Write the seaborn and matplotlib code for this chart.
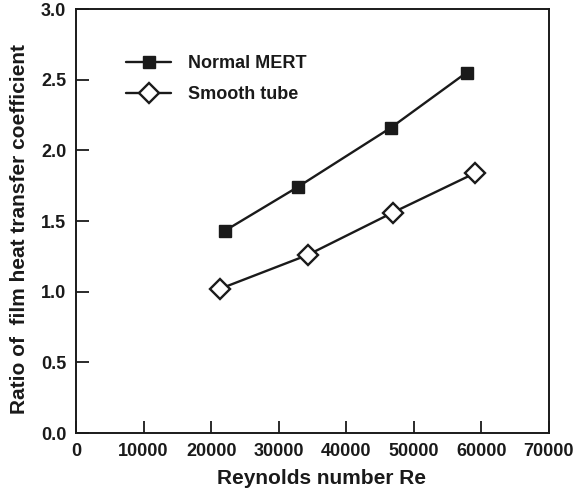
import matplotlib
matplotlib.use("Agg")
import matplotlib.pyplot as plt
import seaborn as sns
import pandas as pd

# Data
re_mert = [22000, 32800, 46600, 57800]
ratio_mert = [1.43, 1.74, 2.16, 2.55]
re_smooth = [21300, 34300, 46900, 59100]
ratio_smooth = [1.02, 1.26, 1.56, 1.84]
series_names = ["Normal MERT", "Smooth tube"]
x_ticks = [0, 10000, 20000, 30000, 40000, 50000, 60000, 70000]
y_ticks = [0.0, 0.5, 1.0, 1.5, 2.0, 2.5, 3.0]

sns.set_theme(style="ticks")
plt.rcParams["font.family"] = ["Liberation Sans", "DejaVu Sans"]
plt.rcParams["font.weight"] = "bold"

ink = "#1a1a1a"
fig = plt.figure(figsize=(5.74, 4.92), dpi=100)
ax = fig.add_axes([0.1324, 0.1199, 0.8240, 0.8618])

df_m = pd.DataFrame({"Re": re_mert, "ratio": ratio_mert})
df_s = pd.DataFrame({"Re": re_smooth, "ratio": ratio_smooth})

sns.lineplot(data=df_m, x="Re", y="ratio", ax=ax, color=ink, lw=1.7,
             marker="s", markersize=9, markerfacecolor=ink,
             markeredgecolor=ink, markeredgewidth=1.0, label=series_names[0])
sns.lineplot(data=df_s, x="Re", y="ratio", ax=ax, color=ink, lw=1.7,
             marker="D", markersize=10.5, markerfacecolor="white",
             markeredgecolor=ink, markeredgewidth=1.7, label=series_names[1])

ax.set_xlim(0, 70000)
ax.set_ylim(0, 3.0)
ax.set_xticks(x_ticks)
ax.set_xticklabels([str(v) for v in x_ticks])
ax.set_yticks(y_ticks)
ax.set_yticklabels([f"{v:.1f}" for v in y_ticks])
ax.tick_params(direction="in", length=9, width=1.3, color=ink,
               labelsize=13, labelcolor=ink, pad=7)
for s in ax.spines.values():
    s.set_color(ink)
    s.set_linewidth(1.4)

ax.set_xlabel("Reynolds number Re", fontsize=15, fontweight="bold",
              color=ink, labelpad=7)
ax.set_ylabel("Ratio of  film heat transfer coefficient", fontsize=15,
              fontweight="bold", color=ink, labelpad=9)
ax.xaxis.set_label_coords(0.52, -0.085)
ax.yaxis.set_label_coords(-0.10, 0.48)

leg = ax.legend(loc="upper left", bbox_to_anchor=(0.072, 0.93), frameon=False,
                fontsize=13, handlelength=2.5, labelspacing=0.8,
                handletextpad=0.9)
for t in leg.get_texts():
    t.set_color(ink)
    t.set_fontweight("bold")

fig.savefig("out.png", dpi=100)
